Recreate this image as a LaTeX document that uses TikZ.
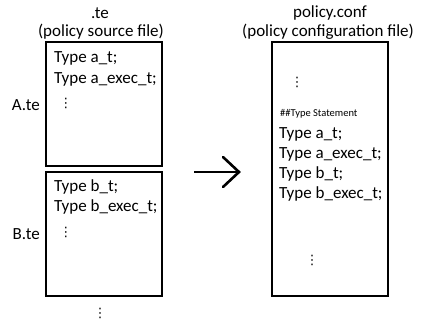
\documentclass[tikz,border=0pt]{standalone}
\usepackage{fontspec}
\setmainfont{Carlito}
\newfontfamily\symfont{DejaVu Sans}
\begin{document}
\begin{tikzpicture}[x=1pt,y=-1pt,
  filebox/.style={draw,line width=1.6pt},
  code/.style={anchor=west,inner sep=0pt,font=\fontsize{17}{19}\selectfont},
  label/.style={inner sep=0pt,font=\fontsize{17}{19}\selectfont},
  note/.style={anchor=west,inner sep=0pt,font=\fontsize{10.5}{12}\selectfont},
  vdots/.style={inner sep=0pt,font=\symfont\fontsize{13}{14}\selectfont}]
\useasboundingbox (0,0) rectangle (421,322);

% source files
\node[label] (tehead) at (100,13) {.te};
\node[label] (tesub) at (101,32) {(policy source file)};
\draw[filebox] (46,42) rectangle (162,166);
\node[code] (a1) at (54,58) {Type a\_t;};
\node[code] (a2) at (54,79) {Type a\_exec\_t;};
\node[vdots] (a3) at (66,103) {⋮};
\node[label,anchor=east] (ate) at (40,105) {A.te};

\draw[filebox] (46,172) rectangle (162,296);
\node[code] (b1) at (54,187) {Type b\_t;};
\node[code] (b2) at (54,207) {Type b\_exec\_t;};
\node[vdots] (b3) at (66,232) {⋮};
\node[label,anchor=east] (bte) at (40,234) {B.te};

\node[vdots] (more) at (100,313) {⋮};

% conversion arrow
\coordinate (arrs) at (194,172);
\coordinate (arre) at (239,172);
\draw[line width=2.6pt] (arrs) -- (arre);
\draw[line width=2.6pt,line cap=round,line join=miter] (223,157) -- (arre) -- (223,187);

% generated configuration
\node[label] (confhead) at (330,13) {policy.conf};
\node[label] (confsub) at (328,32) {(policy configuration file)};
\draw[filebox] (272,42) rectangle (388,296);
\node[vdots] (c0) at (297,82) {⋮};
\node[note] (c1) at (280,114) {\#\#Type Statement};
\node[code] (c2) at (279,134) {Type a\_t;};
\node[code] (c3) at (279,154) {Type a\_exec\_t;};
\node[code] (c4) at (279,174) {Type b\_t;};
\node[code] (c5) at (279,194) {Type b\_exec\_t;};
\node[vdots] (c6) at (312,260) {⋮};
\end{tikzpicture}
\end{document}
